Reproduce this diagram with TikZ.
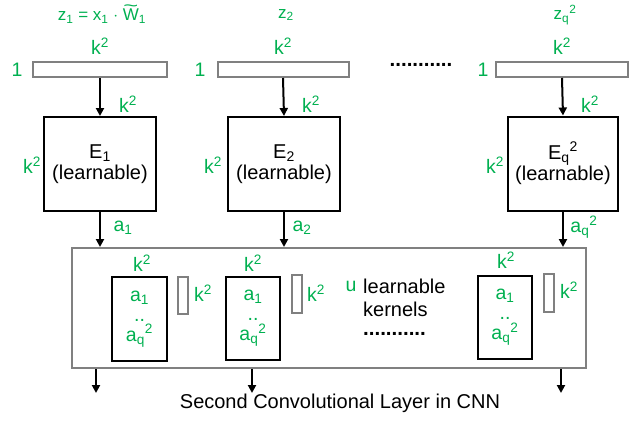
\documentclass[tikz,border=0pt]{standalone}
\usepackage{fontspec}
\setmainfont{Liberation Sans}
\usetikzlibrary{arrows.meta}
\definecolor{lgreen}{RGB}{0,176,80}
\definecolor{lgray}{RGB}{128,128,128}
\newcommand{\sq}{\textsuperscript{2}}
\newcommand{\tildeW}{\ooalign{W\cr\hidewidth\raisebox{0.55em}{\scalebox{1.5}[1]{\textasciitilde}}\hidewidth\cr}}
\begin{document}
\begin{tikzpicture}[x=1pt,y=-1pt,
  lbl/.style={text=lgreen,inner sep=0pt,font=\fontsize{19.5}{20}\selectfont},
  toplbl/.style={text=lgreen,inner sep=0pt,font=\fontsize{17}{18}\selectfont},
  txt/.style={text=black,inner sep=0pt,font=\fontsize{20}{21}\selectfont},
  bar/.style={draw=lgray,line width=2pt,fill=white,inner sep=0pt},
  ebox/.style={draw=black,line width=2pt,inner sep=0pt,minimum width=112pt,minimum height=94pt,align=center,font=\fontsize{20}{21.5}\selectfont},
  kbox/.style={draw=black,line width=2pt,inner sep=0pt,minimum width=54pt,minimum height=83pt,align=center,text=lgreen,font=\fontsize{19.5}{20}\selectfont},
  sbar/.style={draw=lgray,line width=2pt,inner sep=0pt,minimum width=10pt,minimum height=38pt},
  arr/.style={line width=2pt,-{Triangle[length=8pt,width=8pt]}},
  dots/.style={inner sep=0pt,font=\fontsize{20.5}{22}\selectfont\bfseries}
]
\useasboundingbox (0,0) rectangle (641,421);

% top labels
\node[toplbl] (z1) at (102,16) {z\textsubscript{1} = x\textsubscript{1} $\cdot$ \tildeW\textsubscript{1}};
\node[toplbl] (z2) at (286,15) {z\textsubscript{2}};
\node[toplbl] (zq) at (565,15) {z\textsubscript{q}\sq};

% k^2 above bars
\node[lbl] (kb1) at (100,46) {k\sq};
\node[lbl] (kb2) at (283,46) {k\sq};
\node[lbl] (kb3) at (562,46) {k\sq};

% bars
\node[bar,minimum width=134pt,minimum height=15pt] (b1) at (100,69.5) {};
\node[bar,minimum width=131pt,minimum height=15pt] (b2) at (283,69.5) {};
\node[bar,minimum width=132pt,minimum height=15pt] (b3) at (562,69.5) {};
\node[lbl] (one1) at (17,70) {1};
\node[lbl] (one2) at (200,70) {1};
\node[lbl] (one3) at (483,70) {1};
\node[dots] (td) at (421,65) {...........};

% E boxes
\node[ebox] (e1) at (100,164) {E\textsubscript{1}\\(learnable)};
\node[ebox] (e2) at (284,164) {E\textsubscript{2}\\(learnable)};
\node[ebox,minimum width=110pt] (e3) at (563,163.5) {E\textsubscript{q}\sq\\(learnable)};

\draw[arr] (b1.south) -- (e1.north);
\draw[arr] (b2.south) -- (e2.north);
\draw[arr] (b3.south) -- (e3.north);

\node[lbl] (kr1) at (128,104) {k\sq};
\node[lbl] (kr2) at (311,104) {k\sq};
\node[lbl] (kr3) at (590,104) {k\sq};
\node[lbl] (kl1) at (32,165) {k\sq};
\node[lbl] (kl2) at (213,165) {k\sq};
\node[lbl] (kl3) at (495,165) {k\sq};

% big box
\node[draw=lgray,line width=2pt,inner sep=0pt,minimum width=514pt,minimum height=120pt] (big) at (329,308) {};

\draw[arr] (e1.south) -- (e1.south |- big.north);
\draw[arr] (e2.south) -- (e2.south |- big.north);
\draw[arr] (e3.south) -- (e3.south |- big.north);
\node[lbl] (a1) at (123,228) {a\textsubscript{1}};
\node[lbl] (a2) at (302,228) {a\textsubscript{2}};
\node[lbl] (a3) at (584,227) {a\textsubscript{q}\sq};

% inner kernels
\node[kbox,minimum width=55pt,minimum height=84pt] (k1) at (139.5,319) {a\textsubscript{1}\\..\\a\textsubscript{q}\sq};
\node[kbox] (k2) at (253,318.5) {a\textsubscript{1}\\..\\a\textsubscript{q}\sq};
\node[kbox] (k3) at (505,317.5) {a\textsubscript{1}\\..\\a\textsubscript{q}\sq};
\node[lbl] (ka1) at (142,263) {k\sq};
\node[lbl] (ka2) at (253,263) {k\sq};
\node[lbl] (ka3) at (506,260) {k\sq};

\node[sbar,minimum height=37pt] (s1) at (183,295.5) {};
\node[sbar] (s2) at (297,294) {};
\node[sbar] (s3) at (549,293) {};
\node[lbl] (ks1) at (203,293) {k\sq};
\node[lbl] (ks2) at (316,293) {k\sq};
\node[lbl] (ks3) at (569,290) {k\sq};

\node[lbl] (u) at (351,286) {u};
\node[txt,anchor=west,align=left,font=\fontsize{20}{23}\selectfont] (lk) at (363,297.5) {learnable\\kernels};
\node[dots] (bd) at (394.5,334) {...........};

% outputs
\coordinate (o1) at (96,393);
\coordinate (o2) at (252,393);
\coordinate (o3) at (561,393);
\draw[arr] (o1 |- big.south) -- (o1);
\draw[arr] (o2 |- big.south) -- (o2);
\draw[arr] (o3 |- big.south) -- (o3);

\node[txt] (cap) at (340,403) {Second Convolutional Layer in CNN};
\end{tikzpicture}
\end{document}
